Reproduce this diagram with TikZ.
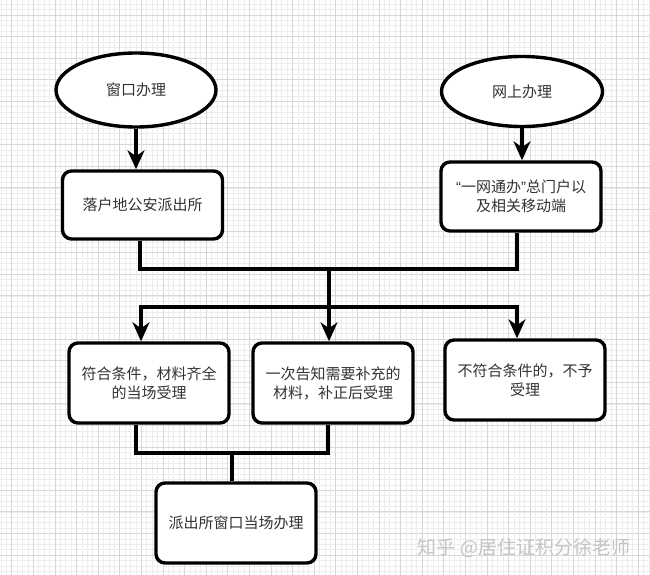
\documentclass[tikz,border=0pt]{standalone}
\usepackage{fontspec}
\setmainfont{Noto Sans CJK SC}
\newfontfamily\cjk{Noto Sans CJK SC}
\newfontfamily\latq{Liberation Sans}
\usetikzlibrary{arrows.meta,shapes.geometric}
\definecolor{minorgrid}{HTML}{EDEDED}
\definecolor{majorgrid}{HTML}{D8D8D8}
\definecolor{wmark}{HTML}{C4C4C4}
\tikzset{
  every node/.style={font=\cjk\fontsize{15}{19}\selectfont, text=black!80, align=center},
  oval/.style={ellipse, draw=black, line width=3.4pt, fill=white, inner sep=0pt},
  roundbox/.style={rectangle, rounded corners=9pt, draw=black, line width=3.4pt, fill=white,
    minimum width=160pt, minimum height=80pt, inner sep=0pt},
  conn/.style={draw=black, line width=3.2pt},
  arr/.style={conn, -{Stealth[length=19pt,width=17pt,inset=6pt]}},
  gminor/.style={draw=minorgrid, line width=0.6pt},
  gmajor/.style={draw=majorgrid, line width=0.7pt},
}
\begin{document}
\begin{tikzpicture}[x=1pt,y=-1pt]
\useasboundingbox (0,0) rectangle (650,575);
% background grid
\fill[white] (0,0) rectangle (650,575);
\foreach \i in {0,...,121} {
  \draw[gminor] ({0.9+\i*5.4},0) -- ({0.9+\i*5.4},575);
}
\foreach \i in {0,...,107} {
  \draw[gminor] (0,{4.2+\i*5.4}) -- (650,{4.2+\i*5.4});
}
\foreach \i in {0,...,30} {
  \draw[gmajor] ({11.7+\i*21.6},0) -- ({11.7+\i*21.6},575);
}
\foreach \i in {0,...,26} {
  \draw[gmajor] (0,{15+\i*21.6}) -- (650,{15+\i*21.6});
}

% nodes
\node[oval, minimum width=160pt, minimum height=74pt] (e1) at (136,90) {窗口办理};
\node[oval, minimum width=161pt, minimum height=70pt] (e2) at (522,91.5) {网上办理};
\node[roundbox, minimum height=68pt] (b1) at (142.5,205) {落户地公安派出所};
\node[roundbox, minimum height=69pt] (b2) at (521,196.5) {{\latq“}一网通办{\latq”}总门户以\\及相关移动端};
\node[roundbox] (b3) at (149,383) {符合条件，材料齐全\\的当场受理};
\node[roundbox] (b4) at (333,383) {一次告知需要补充的\\材料，补正后受理};
\node[roundbox] (b5) at (525,380) {不符合条件的，不予\\受理};
\node[roundbox] (b6) at (236,523) {派出所窗口当场办理};

% junction points
\coordinate (j1) at (329,269);
\coordinate (j2) at (329,307);
\coordinate (j3) at (232,453);

% connectors
\draw[arr] (e1.south) -- (e1.south |- b1.north);
\draw[arr] (e2.south) -- (e2.south |- b2.north);
\draw[conn] ([xshift=-2.5pt]b1.south) |- (j1);
\draw[conn] ([xshift=-4pt]b2.south) |- (j1);
\draw[conn] (j1) -- (j2);
\draw[arr] (j2) -| ([xshift=-8pt]b3.north);
\draw[arr] (j2) -- ([xshift=-4pt]b4.north);
\draw[arr] (j2) -| ([xshift=-8pt]b5.north);
\draw[conn] ([xshift=-13pt]b3.south) |- (j3);
\draw[conn] ([xshift=-5pt]b4.south) |- (j3);
\draw[conn] (j3) -- ([xshift=-4pt]b6.north);

% watermark
\node[font=\cjk\fontsize{19}{21}\selectfont, text=wmark, anchor=center] (wm) at (524,548) {知乎 @居住证积分徐老师};
\end{tikzpicture}
\end{document}
